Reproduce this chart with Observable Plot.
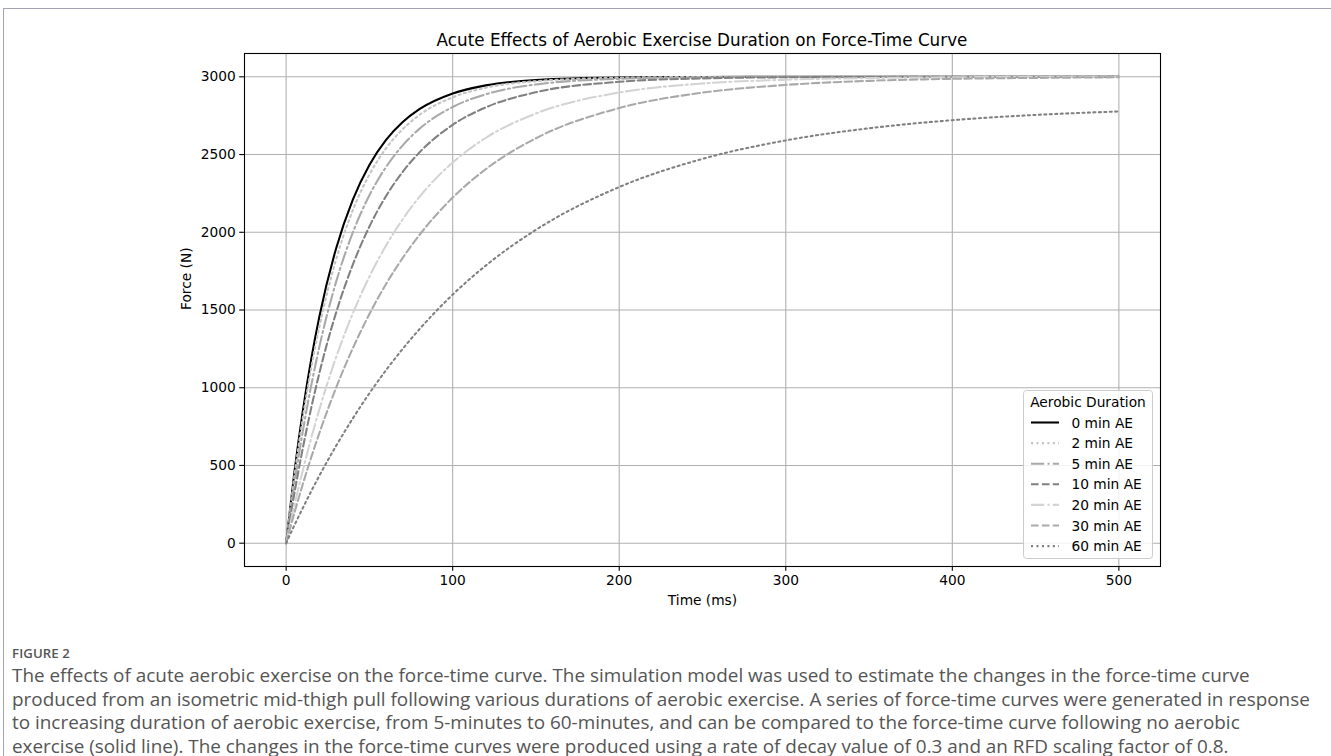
<!DOCTYPE html>
<html>
<head>
<meta charset="utf-8">
<script src="https://cdn.jsdelivr.net/npm/d3@7"></script>
<script src="https://cdn.jsdelivr.net/npm/@observablehq/plot@0.6"></script>
<style>
html, body { margin: 0; padding: 0; background: #fff; width: 1331px; height: 756px; overflow: hidden; }
#wrap { position: relative; width: 1331px; height: 756px; }
#btop { position: absolute; left: 3px; top: 8px; width: 1328px; height: 0; border-top: 1.5px solid #a3a3b3; }
#bleft { position: absolute; left: 3px; top: 8px; width: 0; height: 748px; border-left: 1.5px solid #a3a3b3; }
#chart { position: absolute; left: 0; top: 0; }
#title { position: absolute; left: 244px; width: 916px; top: 30px; text-align: center; font-family: "DejaVu Sans"; font-size: 16.8px; line-height: 20px; color: #000; }
#legend { position: absolute; left: 1023px; top: 390px; }
#fig { position: absolute; left: 12px; top: 644px; font-family: "Open Sans"; font-size: 13.2px; font-weight: 600; color: #555; line-height: 18px; letter-spacing: 0.1px; }
.cap { position: absolute; left: 12px; font-family: "Open Sans"; font-size: 18.9px; color: #555; line-height: 23.5px; white-space: nowrap; }
</style>
</head>
<body>
<div id="wrap">
  <div id="btop"></div>
  <div id="bleft"></div>
  <div id="chart"></div>
  <div id="title"></div>
  <div id="legend"></div>
  <div id="fig">FIGURE 2</div>
  <div class="cap" style="top:664px">The effects of acute aerobic exercise on the force-time curve. The simulation model was used to estimate the changes in the force-time curve</div>
  <div class="cap" style="top:687.5px">produced from an isometric mid-thigh pull following various durations of aerobic exercise. A series of force-time curves were generated in response</div>
  <div class="cap" style="top:711px">to increasing duration of aerobic exercise, from 5-minutes to 60-minutes, and can be compared to the force-time curve following no aerobic</div>
  <div class="cap" style="top:734.5px">exercise (solid line). The changes in the force-time curves were produced using a rate of decay value of 0.3 and an RFD scaling factor of 0.8.</div>
</div>
<script>
// ---- Data ----
const chartTitle = "Acute Effects of Aerobic Exercise Duration on Force-Time Curve";
const xLabel = "Time (ms)";
const yLabel = "Force (N)";
const legendTitle = "Aerobic Duration";
const xTicks = [0, 100, 200, 300, 400, 500];
const yTicks = [0, 500, 1000, 1500, 2000, 2500, 3000];

const seriesNames = ["0 min AE", "2 min AE", "5 min AE", "10 min AE", "20 min AE", "30 min AE", "60 min AE"];

const time   = [0, 5, 10, 15, 20, 30, 40, 50, 60, 70, 80, 100, 120, 150, 200, 250, 300, 350, 400, 450, 500];
const ae0    = [0, 460, 850, 1180, 1460, 1896, 2209, 2433, 2594, 2709, 2792, 2893, 2945, 2980, 2996, 2999, 3000, 3000, 3000, 3000, 3000];
const ae2    = [0, 434, 805, 1123, 1394, 1825, 2141, 2371, 2540, 2663, 2754, 2868, 2930, 2972, 2994, 2999, 3000, 3000, 3000, 3000, 3000];
const ae5    = [0, 384, 719, 1011, 1266, 1681, 1997, 2238, 2420, 2559, 2665, 2806, 2888, 2951, 2987, 2997, 2999, 3000, 3000, 3000, 3000];
const ae10   = [0, 322, 610, 867, 1096, 1483, 1791, 2037, 2233, 2389, 2513, 2691, 2804, 2901, 2968, 2990, 2997, 2999, 3000, 3000, 3000];
const ae20   = [0, 244, 468, 673, 862, 1196, 1477, 1715, 1915, 2084, 2227, 2449, 2608, 2764, 2899, 2957, 2981, 2992, 2997, 2999, 2999];
const ae30   = [0, 196, 379, 550, 710, 1000, 1253, 1474, 1667, 1835, 1982, 2223, 2407, 2605, 2799, 2898, 2948, 2974, 2987, 2993, 2997];
const ae60   = [0, 116, 226, 333, 435, 626, 802, 964, 1113, 1250, 1376, 1599, 1787, 2016, 2291, 2472, 2591, 2669, 2721, 2755, 2777];

const seriesValues = [ae0, ae2, ae5, ae10, ae20, ae30, ae60];

// ---- Styles (matplotlib-like, scaled to ~1.375 px/pt) ----
const dashSolid = null;
const dashDot = "2.06,3.4";
const dashDashDot = "13.2,3.3,2.06,3.3";
const dashDash = "7.6,3.3";
const seriesStyle = [
  {stroke: "#000000", dash: dashSolid},
  {stroke: "#c4c4c4", dash: dashDot},
  {stroke: "#a9a9a9", dash: dashDashDot},
  {stroke: "#808080", dash: dashDash},
  {stroke: "#d3d3d3", dash: dashDashDot},
  {stroke: "#a9a9a9", dash: dashDash},
  {stroke: "#808080", dash: dashDot}
];
const lw = 2.06;

document.getElementById("title").textContent = chartTitle;

const lineMarks = seriesValues.map((vals, i) => {
  const rows = time.map((t, j) => ({t, f: vals[j]}));
  const opts = {x: "t", y: "f", stroke: seriesStyle[i].stroke, strokeWidth: lw, curve: "monotone-x"};
  if (seriesStyle[i].dash) opts.strokeDasharray = seriesStyle[i].dash;
  return Plot.line(rows, opts);
});

const chart = Plot.plot({
  width: 1331,
  height: 620,
  marginLeft: 244,
  marginRight: 171,
  marginTop: 53,
  marginBottom: 54,
  style: {fontFamily: "DejaVu Sans", fontSize: "13.75px", color: "#000", background: "transparent", overflow: "visible"},
  x: {domain: [-25, 525]},
  y: {domain: [-150, 3150]},
  marks: [
    Plot.gridX(xTicks, {stroke: "#b0b0b0", strokeOpacity: 1, strokeWidth: 1.1}),
    Plot.gridY(yTicks, {stroke: "#b0b0b0", strokeOpacity: 1, strokeWidth: 1.1}),
    ...lineMarks,
    Plot.frame({stroke: "#000", strokeWidth: 1.1}),
    Plot.axisX(xTicks, {tickSize: 4.8, tickPadding: 4, tickFormat: d => String(d), label: null, strokeWidth: 1.1}),
    Plot.axisY(yTicks, {tickSize: 4.8, tickPadding: 4, tickFormat: d => String(d), label: null, strokeWidth: 1.1}),
    Plot.text([xLabel], {text: d => d, frameAnchor: "bottom", dy: 34, lineAnchor: "middle", fontSize: 13.75}),
    Plot.text([yLabel], {text: d => d, frameAnchor: "left", dx: -58, rotate: -90, lineAnchor: "middle", fontSize: 13.75})
  ]
});
document.getElementById("chart").appendChild(chart);

// ---- Legend ----
const lgW = 129, lgH = 168;
const lg = d3.create("svg").attr("width", lgW + 2).attr("height", lgH + 2)
  .style("font-family", "DejaVu Sans").style("font-size", "13.75px");
lg.append("rect").attr("x", 0.5).attr("y", 0.5).attr("width", lgW).attr("height", lgH)
  .attr("rx", 3).attr("fill", "rgba(255,255,255,0.85)").attr("stroke", "#cccccc").attr("stroke-width", 1);
lg.append("text").attr("x", lgW / 2 + 0.5).attr("y", 12).attr("text-anchor", "middle")
  .attr("dominant-baseline", "central").attr("fill", "#000").text(legendTitle);
seriesNames.forEach((name, i) => {
  const cy = 32.5 + i * 20.6;
  const ln = lg.append("line").attr("x1", 8).attr("x2", 36).attr("y1", cy).attr("y2", cy)
    .attr("stroke", seriesStyle[i].stroke).attr("stroke-width", lw);
  if (seriesStyle[i].dash) ln.attr("stroke-dasharray", seriesStyle[i].dash);
  lg.append("text").attr("x", 48.5).attr("y", cy).attr("dominant-baseline", "central")
    .attr("fill", "#000").text(name);
});
document.getElementById("legend").appendChild(lg.node());
</script>
</body>
</html>
